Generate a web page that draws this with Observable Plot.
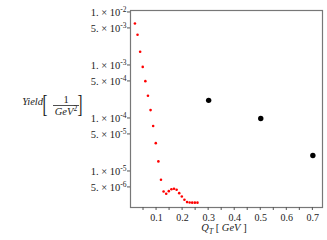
<!DOCTYPE html>
<html><head><meta charset="utf-8">
<script src="https://cdn.jsdelivr.net/npm/d3@7"></script>
<script src="https://cdn.jsdelivr.net/npm/@observablehq/plot@0.6"></script>
<style>html,body{margin:0;padding:0;background:#fff;}</style>
</head><body><div id="chart"></div>
<script>
const redQT = [0.017, 0.027, 0.037, 0.047, 0.057, 0.067, 0.077, 0.087, 0.097, 0.107,
  0.117, 0.127, 0.137, 0.147, 0.157, 0.167, 0.177, 0.187, 0.197, 0.207,
  0.217, 0.227, 0.237, 0.247, 0.257];
const redYield = [6.2e-3, 3.8e-3, 1.81e-3, 9.4e-4, 5.06e-4, 2.68e-4, 1.44e-4, 7.2e-5, 3.42e-5, 1.55e-5,
  6.97e-6, 4.2e-6, 3.8e-6, 4.25e-6, 4.63e-6, 4.72e-6, 4.52e-6, 3.9e-6, 3.38e-6, 2.92e-6,
  2.64e-6, 2.6e-6, 2.58e-6, 2.58e-6, 2.58e-6];
const blackQT = [0.3, 0.5, 0.7];
const blackYield = [2.2e-4, 1.0e-4, 2.0e-5];
const yTicks = [1e-2, 5e-3, 1e-3, 5e-4, 1e-4, 5e-5, 1e-5, 5e-6];
const yTickLabels = ["1. × 10^-2", "5. × 10^-3", "1. × 10^-3", "5. × 10^-4",
  "1. × 10^-4", "5. × 10^-5", "1. × 10^-5", "5. × 10^-6"];
const xTicks = [0.05, 0.1, 0.15, 0.2, 0.25, 0.3, 0.35, 0.4, 0.45, 0.5, 0.55, 0.6, 0.65, 0.7];
const xTickLabels = ["", "0.1", "", "0.2", "", "0.3", "", "0.4", "", "0.5", "", "0.6", "", "0.7"];

const red = redQT.map((q, i) => ({q, y: redYield[i]}));
const black = blackQT.map((q, i) => ({q, y: blackYield[i]}));
const yt = yTicks.map((v, i) => ({v, label: yTickLabels[i]}));
const xt = xTicks.map((v, i) => ({v, label: xTickLabels[i]}));

const svg = Plot.plot({
  width: 327, height: 240,
  marginLeft: 130, marginRight: 5, marginTop: 10, marginBottom: 33,
  x: {domain: [0, 0.737], axis: null},
  y: {type: "log", domain: [2.09e-6, 1.09e-2], axis: null},
  style: {fontFamily: "Liberation Serif", fontSize: "10px", background: "white", color: "#222"},
  marks: [
    Plot.frame({stroke: "#777", strokeWidth: 1.2}),
    Plot.text(yt, {y: "v", frameAnchor: "left", dx: -4, textAnchor: "end", text: "label",
      fontSize: 10.5, fill: "#222", className: "ytl"}),
    Plot.text(xt, {x: "v", frameAnchor: "bottom", dy: 13, text: "label",
      fontSize: 10, fill: "#222"}),
    Plot.dot(red, {x: "q", y: "y", r: 1.3, fill: "red", stroke: null}),
    Plot.dot(black, {x: "q", y: "y", r: 2.7, fill: "black", stroke: null})
  ]
});

const S = d3.select(svg);
const xs = svg.scale("x"), ys = svg.scale("y");
// tick marks positioned via the plot's scales
yTicks.forEach(v => {
  const y = ys.apply(v);
  S.append("line").attr("x1", 127).attr("x2", 130).attr("y1", y).attr("y2", y)
    .attr("stroke", "#555");
});
xTicks.forEach(v => {
  const x = xs.apply(v);
  S.append("line").attr("x1", x).attr("x2", x).attr("y1", 207).attr("y2", 210)
    .attr("stroke", "#555");
});

// superscript exponents on y tick labels
svg.querySelectorAll('.ytl text').forEach(t => {
  const s = t.textContent;
  const parts = s.split("^");
  if (parts.length === 2) {
    t.textContent = "";
    const a = document.createElementNS("http://www.w3.org/2000/svg", "tspan");
    a.textContent = parts[0];
    const b = document.createElementNS("http://www.w3.org/2000/svg", "tspan");
    b.textContent = parts[1];
    b.setAttribute("font-size", "7.5");
    b.setAttribute("dy", "-4");
    t.appendChild(a); t.appendChild(b);
  }
});

const ff = "Liberation Serif";
// Y label
S.append("text").attr("x", 43).attr("y", 104.5).attr("text-anchor", "end")
  .attr("font-family", ff).attr("font-size", 10.5).attr("font-style", "italic").text("Yield");
S.append("text").attr("transform", "translate(45,112) scale(1,1.7)")
  .attr("font-family", ff).attr("font-size", 15).attr("font-weight", 300).text("[");
S.append("text").attr("transform", "translate(80,112) scale(1,1.7)")
  .attr("font-family", ff).attr("font-size", 15).attr("font-weight", 300).text("]");
S.append("text").attr("x", 66).attr("y", 103).attr("text-anchor", "middle")
  .attr("font-family", ff).attr("font-size", 10.5).text("1");
S.append("line").attr("x1", 53).attr("x2", 79).attr("y1", 105.5).attr("y2", 105.5)
  .attr("stroke", "#222").attr("stroke-width", 0.8);
const g = S.append("text").attr("x", 66).attr("y", 114.5).attr("text-anchor", "middle")
  .attr("font-family", ff).attr("font-size", 10.5);
g.append("tspan").attr("font-style", "italic").text("GeV");
g.append("tspan").attr("font-size", 7.5).attr("dy", -4).text("2");
// X label
const xl = S.append("text").attr("x", 224).attr("y", 231).attr("text-anchor", "middle")
  .attr("font-family", ff).attr("font-size", 10.5);
xl.append("tspan").attr("font-style", "italic").text("Q");
xl.append("tspan").attr("font-style", "italic").attr("font-size", 7.5).attr("dy", 2.5).text("T");
xl.append("tspan").attr("dy", -2.5).text(" [ ");
xl.append("tspan").attr("font-style", "italic").text("GeV");
xl.append("tspan").text(" ]");

document.getElementById("chart").appendChild(svg);
</script>
</body></html>
